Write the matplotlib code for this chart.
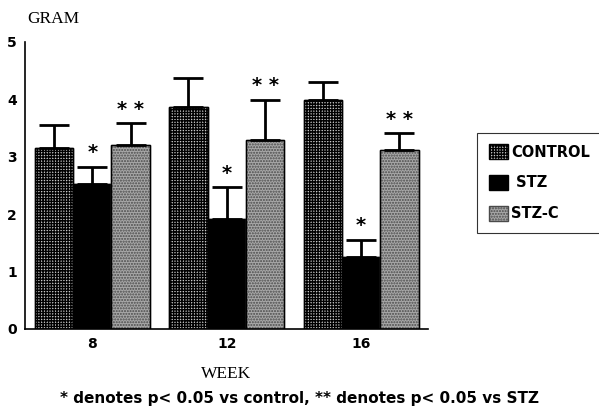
import numpy as np
import matplotlib
matplotlib.use("Agg")
import matplotlib.pyplot as plt

weeks = ["8", "12", "16"]
groups = ["CONTROL", " STZ", "STZ-C"]
control = [3.15, 3.87, 3.99]
control_err = [0.40, 0.50, 0.31]
stz = [2.52, 1.92, 1.25]
stz_err = [0.30, 0.55, 0.30]
stzc = [3.20, 3.29, 3.12]
stzc_err = [0.38, 0.70, 0.29]
stars_stz = ["*", "*", "*"]
stars_stzc = ["* *", "* *", "* *"]

plt.rcParams["hatch.linewidth"] = 1.0

fig = plt.figure(figsize=(5.99, 4.18), dpi=100)
ax = fig.add_axes([0.042, 0.213, 0.673, 0.687])

x = np.arange(len(weeks))
w = 0.285

styles = [
    dict(facecolor="#c8c8c8", hatch="++++++", edgecolor="black"),
    dict(facecolor="black", edgecolor="black"),
    dict(facecolor="#a8a8a8", hatch="......", edgecolor="#4a4a4a"),
]
vals = [control, stz, stzc]
errs = [control_err, stz_err, stzc_err]

handles = []
for k in range(3):
    pos = x + (k - 1) * w
    b = ax.bar(pos, vals[k], w, label=groups[k], linewidth=1.0, **styles[k])
    # outline in black
    ax.bar(pos, vals[k], w, facecolor="none", edgecolor="black", linewidth=1.0)
    ax.errorbar(pos, vals[k], yerr=[np.zeros(3), errs[k]], fmt="none",
                ecolor="black", elinewidth=2, capsize=11, capthick=2)
    handles.append(b)

for i in range(3):
    ax.text(x[i], stz[i] + stz_err[i] + 0.08, stars_stz[i], ha="center",
            va="bottom", fontsize=14, fontweight="bold")
    ax.text(x[i] + w, stzc[i] + stzc_err[i] + 0.08, stars_stzc[i],
            ha="center", va="bottom", fontsize=14, fontweight="bold")

ax.set_xlim(-0.5, 2.5)
ax.set_ylim(0, 5)
ax.set_yticks([0, 1, 2, 3, 4, 5])
ax.set_xticks(x)
ax.set_xticklabels(weeks)
ax.tick_params(length=0, labelsize=10, pad=6)
for lab in ax.get_xticklabels() + ax.get_yticklabels():
    lab.set_fontweight("bold")
ax.spines["top"].set_visible(False)
ax.spines["right"].set_visible(False)
ax.spines["left"].set_linewidth(1.2)
ax.spines["bottom"].set_linewidth(1.2)

fig.text(0.045, 0.945, "GRAM", family="Liberation Serif", fontsize=12.5)
fig.text(0.377, 0.095, "WEEK", family="Liberation Serif", fontsize=12.5, ha="center")
fig.text(0.5, 0.035, "* denotes p< 0.05 vs control, ** denotes p< 0.05 vs STZ",
         fontweight="bold", fontsize=11, ha="center")

leg = fig.legend(handles=handles, labels=groups, loc="upper left",
                 bbox_to_anchor=(0.797, 0.683), frameon=True, fancybox=False,
                 edgecolor="black", handlelength=1.3, handleheight=1.2,
                 handletextpad=0.2, borderpad=0.8, labelspacing=1.05,
                 borderaxespad=0,
                 prop={"weight": "bold", "size": 10.5})
leg.get_frame().set_linewidth(0.8)

fig.savefig("out.png", dpi=100)
